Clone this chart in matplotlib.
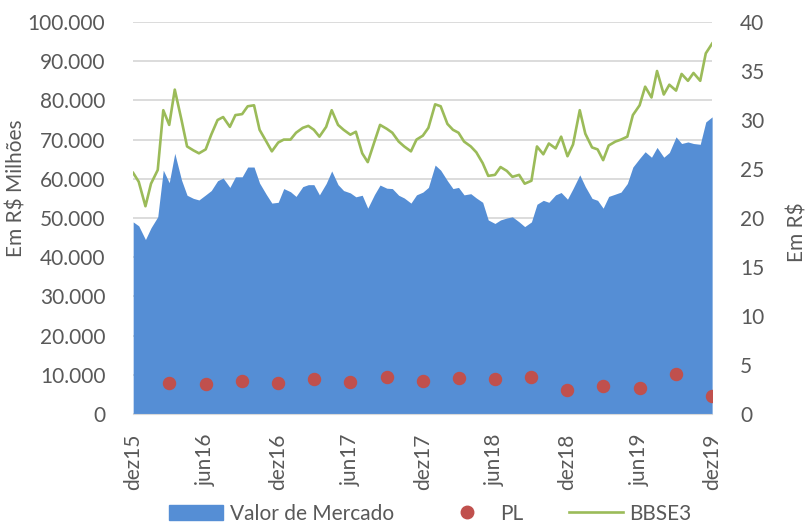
import matplotlib
matplotlib.use("Agg")
import matplotlib.pyplot as plt
from matplotlib.ticker import FuncFormatter, MultipleLocator
from matplotlib.patches import Patch
from matplotlib.lines import Line2D
import pandas as pd

# semi-monthly readings, dez/2015 -> dez/2019
dates = pd.date_range("2015-12-01", "2019-12-01", freq="SMS")

# Valor de Mercado (R$ milhoes, in thousands)
valor_mercado = [
    49.0, 48.0, 44.5, 47.5, 50.3, 62.2, 59.0, 66.5, 59.7, 55.8,
    55.0, 54.6, 55.9, 57.0, 59.5, 60.2, 57.8, 60.5, 60.5, 63.0,
    63.0, 58.9, 56.0, 53.8, 54.0, 57.5, 56.7, 55.5, 58.0, 58.5,
    58.5, 55.9, 58.8, 62.0, 58.5, 57.0, 56.4, 55.4, 55.8, 52.5,
    56.0, 58.4, 57.6, 57.5, 55.8, 55.1, 53.8, 55.9, 56.6, 57.8,
    63.5, 62.2, 59.5, 57.5, 57.8, 55.9, 56.2, 55.1, 54.0, 49.5,
    48.6, 49.5, 50.0, 50.3, 49.0, 47.8, 49.0, 53.5, 54.5, 54.0,
    55.9, 56.5, 54.8, 57.5, 61.0, 58.0, 55.0, 54.5, 52.5, 55.5,
    56.1, 56.6, 58.8, 63.0, 65.2, 66.9, 65.5, 68.0, 65.5, 66.7,
    70.7, 69.0, 69.4, 69.0, 68.8, 74.5, 75.8,
]

# BBSE3 (R$)
bbse3 = [
    24.6, 23.7, 21.2, 23.5, 24.9, 31.0, 29.5, 33.1, 30.0, 27.3,
    26.9, 26.6, 27.0, 28.5, 30.0, 30.3, 29.3, 30.5, 30.6, 31.4,
    31.5, 29.0, 27.8, 26.8, 27.7, 28.0, 28.0, 28.7, 29.2, 29.4,
    29.0, 28.3, 29.3, 31.0, 29.5, 29.0, 28.5, 28.8, 26.6, 25.7,
    27.8, 29.5, 29.1, 28.7, 27.8, 27.3, 26.8, 28.0, 28.4, 29.2,
    31.6, 31.4, 29.6, 29.0, 28.7, 27.8, 27.3, 26.7, 25.6, 24.3,
    24.4, 25.2, 24.8, 24.2, 24.4, 23.5, 23.8, 27.3, 26.5, 27.6,
    27.1, 28.3, 26.3, 27.5, 31.0, 28.6, 27.2, 27.0, 25.9, 27.4,
    27.8, 28.0, 28.3, 30.5, 31.5, 33.4, 32.3, 35.0, 32.6, 33.6,
    33.0, 34.7, 34.0, 34.8, 34.0, 36.8, 37.8,
]

# PL (R$ milhoes, in thousands), quarterly
pl_dates = pd.date_range("2016-03-01", "2019-12-01", freq="3MS")
pl = [7.8, 7.6, 8.5, 7.8, 8.9, 8.2, 9.5, 8.5, 9.2, 8.9,
      9.5, 6.2, 7.2, 6.6, 10.1, 4.6]

tick_dates = pd.date_range("2015-12-01", "2019-12-01", freq="6MS")
tick_labels = ["dez15", "jun16", "dez16", "jun17", "dez17",
               "jun18", "dez18", "jun19", "dez19"]

BLUE = "#558ED5"
RED = "#C0504D"
GREEN = "#9BBB59"
GREY = "#595959"
FS = 15

plt.rcParams["font.family"] = ["Lato", "DejaVu Sans"]

fig = plt.figure(figsize=(8.12, 5.24), dpi=100)
ax = fig.add_axes([0.164, 0.21, 0.713, 0.748])
ax2 = ax.twinx()

vm = [v * 1000 for v in valor_mercado]
ax.fill_between(dates, 0, vm, color=BLUE, lw=0, zorder=2)
ax.scatter(pl_dates, [v * 1000 for v in pl], s=75, color=RED, zorder=4)
ax2.plot(dates, bbse3, color=GREEN, lw=1.9, zorder=3)

ax.set_xlim(dates[0], dates[-1])
ax.set_ylim(0, 100000)
ax2.set_ylim(0, 40)
ax.yaxis.set_major_locator(MultipleLocator(10000))
ax2.yaxis.set_major_locator(MultipleLocator(5))
ax.yaxis.set_major_formatter(FuncFormatter(lambda v, p: f"{int(v):,}".replace(",", ".")))

ax.set_axisbelow(True)
ax.grid(axis="y", color="#D9D9D9", lw=1.3, zorder=0)

ax.set_xticks(tick_dates)
ax.set_xticklabels(tick_labels, rotation=90)

for a in (ax, ax2):
    for s in a.spines.values():
        s.set_visible(False)
    a.tick_params(length=0, labelsize=FS, colors=GREY)
ax.spines["bottom"].set_visible(True)
ax.spines["bottom"].set_color("#D9D9D9")
ax.tick_params(axis="y", pad=20)
ax.tick_params(axis="x", pad=14)
ax2.tick_params(axis="y", pad=20)

# axis titles placed as in the reference
fig.text(0.02, 0.64, "Em R$ Milhões", rotation=90, fontsize=FS, color=GREY,
         ha="center", va="center")
fig.text(0.982, 0.557, "Em R$", rotation=90, fontsize=FS, color=GREY,
         ha="center", va="center")

handles = [Patch(color=BLUE),
           Line2D([], [], ls="", marker="o", ms=9, color=RED),
           Line2D([], [], color=GREEN, lw=1.9)]
fig.legend(handles, ["Valor de Mercado", "PL", "BBSE3"], loc="center",
           bbox_to_anchor=(0.53, 0.02), ncol=3, frameon=False,
           fontsize=FS, labelcolor=GREY, handlelength=2.6,
           handletextpad=0.3, columnspacing=2.2)

fig.savefig("out.png", dpi=100)
